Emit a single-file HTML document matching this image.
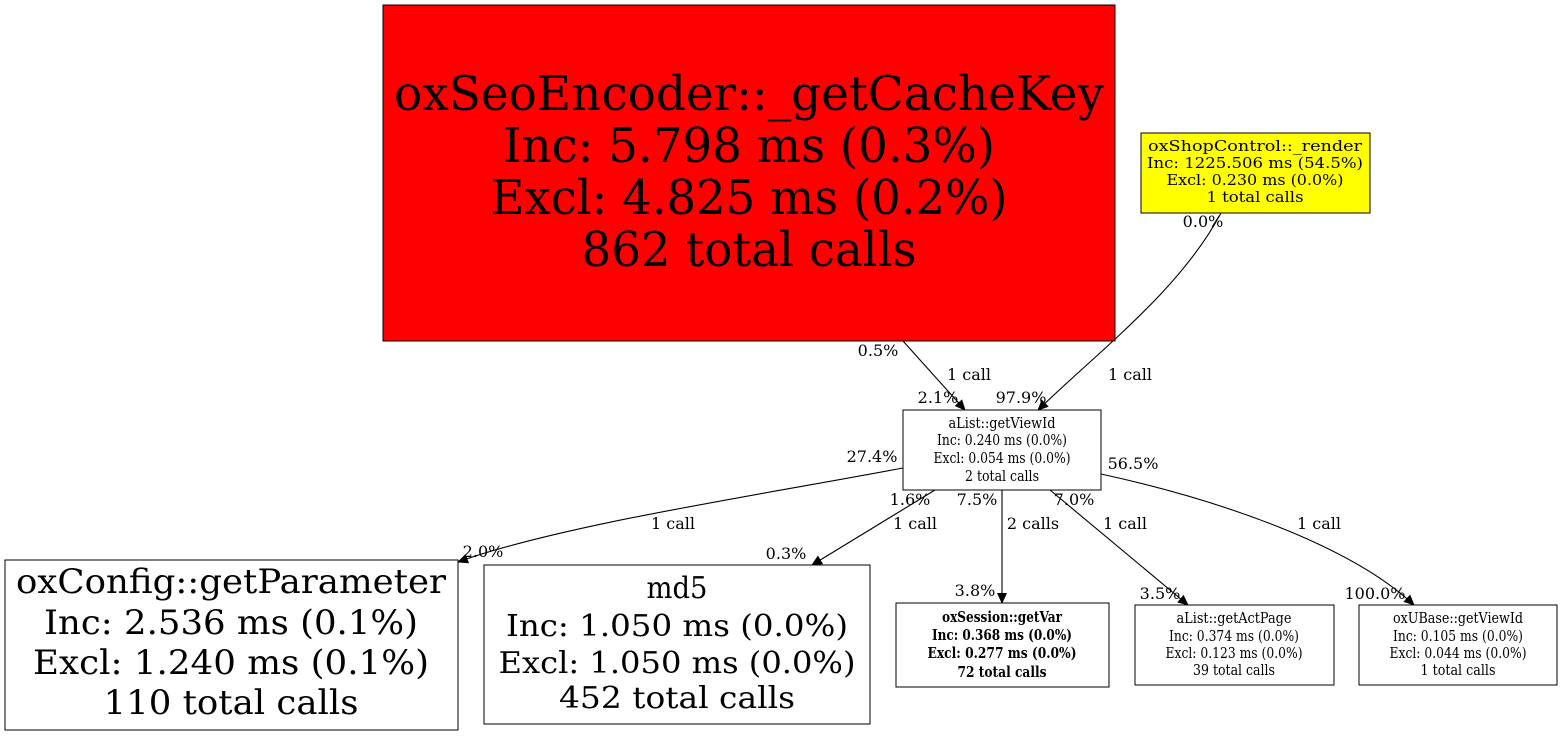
<!DOCTYPE html>
<html><head><meta charset="utf-8"><style>html,body{margin:0;padding:0;background:#fff}svg{display:block}</style></head>
<body>
<svg width="1563" height="736" viewBox="0 0 1563 736" xmlns="http://www.w3.org/2000/svg" font-family="DejaVu Serif, serif" text-anchor="middle">
<defs><marker id="a" markerWidth="11" markerHeight="10" refX="10" refY="5" orient="auto" markerUnits="userSpaceOnUse"><path d="M0,0 L11,5 L0,10 z" fill="#000"/></marker></defs>
<g fill="none" stroke="#000" stroke-width="1.1">
<path d="M903,341 L965,410" marker-end="url(#a)"/>
<path d="M1221,213 C1180,290 1100,350 1038,410" marker-end="url(#a)"/>
<path d="M903,468 C760,495 560,525 458,562" marker-end="url(#a)"/>
<path d="M935,490 L812,565" marker-end="url(#a)"/>
<path d="M1002,490 L1002,603" marker-end="url(#a)"/>
<path d="M1050,490 L1188,605" marker-end="url(#a)"/>
<path d="M1101,474 C1220,500 1350,545 1414,605" marker-end="url(#a)"/>
</g>
<g font-size="16">
<text x="878" y="356">0.5%</text><text x="969" y="380">1 call</text><text x="938" y="403">2.1%</text>
<text x="1203" y="227">0.0%</text><text x="1130" y="380">1 call</text><text x="1021" y="403">97.9%</text>
<text x="872" y="462">27.4%</text><text x="673" y="529">1 call</text><text x="483" y="557">2.0%</text>
<text x="910" y="505">1.6%</text><text x="915" y="529">1 call</text><text x="786" y="559">0.3%</text>
<text x="977" y="505">7.5%</text><text x="1033" y="529">2 calls</text><text x="975" y="596">3.8%</text>
<text x="1074" y="505">7.0%</text><text x="1125" y="529">1 call</text><text x="1160" y="599">3.5%</text>
<text x="1133" y="469">56.5%</text><text x="1319" y="529">1 call</text><text x="1375" y="599">100.0%</text>
</g>
<rect x="383" y="5" width="732" height="336" fill="#f00" stroke="#000"/>
<g font-size="48"><text x="749" y="110" textLength="710" lengthAdjust="spacingAndGlyphs">oxSeoEncoder::_getCacheKey</text><text x="749" y="162" textLength="492" lengthAdjust="spacingAndGlyphs">Inc: 5.798 ms (0.3%)</text><text x="749" y="214" textLength="517" lengthAdjust="spacingAndGlyphs">Excl: 4.825 ms (0.2%)</text><text x="749" y="266" textLength="335" lengthAdjust="spacingAndGlyphs">862 total calls</text></g>
<rect x="1141" y="133" width="229" height="80" fill="#ff0" stroke="#000"/>
<g font-size="15"><text x="1255" y="151" textLength="214" lengthAdjust="spacingAndGlyphs">oxShopControl::_render</text><text x="1255" y="168" textLength="216" lengthAdjust="spacingAndGlyphs">Inc: 1225.506 ms (54.5%)</text><text x="1255" y="185" textLength="177" lengthAdjust="spacingAndGlyphs">Excl: 0.230 ms (0.0%)</text><text x="1255" y="202" textLength="97" lengthAdjust="spacingAndGlyphs">1 total calls</text></g>
<rect x="903" y="410" width="198" height="80" fill="#fff" stroke="#000"/>
<g font-size="15"><text x="1002" y="428" textLength="107" lengthAdjust="spacingAndGlyphs">aList::getViewId</text><text x="1002" y="445" textLength="130" lengthAdjust="spacingAndGlyphs">Inc: 0.240 ms (0.0%)</text><text x="1002" y="463" textLength="137" lengthAdjust="spacingAndGlyphs">Excl: 0.054 ms (0.0%)</text><text x="1002" y="481" textLength="74" lengthAdjust="spacingAndGlyphs">2 total calls</text></g>
<rect x="5" y="560" width="453" height="170" fill="#fff" stroke="#000"/>
<g font-size="34"><text x="231" y="593" textLength="430" lengthAdjust="spacingAndGlyphs">oxConfig::getParameter</text><text x="231" y="634" textLength="374" lengthAdjust="spacingAndGlyphs">Inc: 2.536 ms (0.1%)</text><text x="231" y="674" textLength="396" lengthAdjust="spacingAndGlyphs">Excl: 1.240 ms (0.1%)</text><text x="231" y="714" textLength="255" lengthAdjust="spacingAndGlyphs">110 total calls</text></g>
<rect x="484" y="565" width="386" height="159" fill="#fff" stroke="#000"/>
<g font-size="30"><text x="677" y="598" textLength="61" lengthAdjust="spacingAndGlyphs">md5</text><text x="677" y="636" textLength="342" lengthAdjust="spacingAndGlyphs">Inc: 1.050 ms (0.0%)</text><text x="677" y="673" textLength="357" lengthAdjust="spacingAndGlyphs">Excl: 1.050 ms (0.0%)</text><text x="677" y="708" textLength="236" lengthAdjust="spacingAndGlyphs">452 total calls</text></g>
<rect x="896" y="603" width="213" height="84" fill="#fff" stroke="#000"/>
<g font-size="15" font-weight="bold"><text x="1002" y="622" textLength="120" lengthAdjust="spacingAndGlyphs">oxSession::getVar</text><text x="1002" y="640" textLength="140" lengthAdjust="spacingAndGlyphs">Inc: 0.368 ms (0.0%)</text><text x="1002" y="658" textLength="149" lengthAdjust="spacingAndGlyphs">Excl: 0.277 ms (0.0%)</text><text x="1002" y="677" textLength="89" lengthAdjust="spacingAndGlyphs">72 total calls</text></g>
<rect x="1135" y="605" width="199" height="80" fill="#fff" stroke="#000"/>
<g font-size="15"><text x="1234" y="623" textLength="115" lengthAdjust="spacingAndGlyphs">aList::getActPage</text><text x="1234" y="641" textLength="130" lengthAdjust="spacingAndGlyphs">Inc: 0.374 ms (0.0%)</text><text x="1234" y="658" textLength="137" lengthAdjust="spacingAndGlyphs">Excl: 0.123 ms (0.0%)</text><text x="1234" y="675" textLength="82" lengthAdjust="spacingAndGlyphs">39 total calls</text></g>
<rect x="1359" y="605" width="198" height="80" fill="#fff" stroke="#000"/>
<g font-size="15"><text x="1458" y="623" textLength="130" lengthAdjust="spacingAndGlyphs">oxUBase::getViewId</text><text x="1458" y="641" textLength="130" lengthAdjust="spacingAndGlyphs">Inc: 0.105 ms (0.0%)</text><text x="1458" y="658" textLength="137" lengthAdjust="spacingAndGlyphs">Excl: 0.044 ms (0.0%)</text><text x="1458" y="675" textLength="75" lengthAdjust="spacingAndGlyphs">1 total calls</text></g>
</svg>
</body></html>
